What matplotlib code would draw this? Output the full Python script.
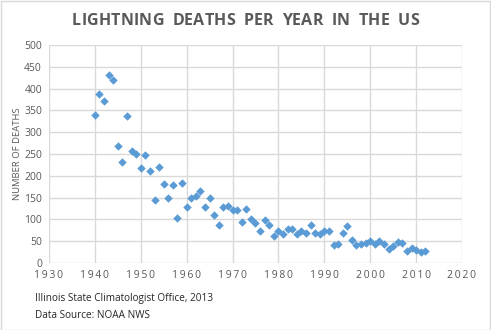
import matplotlib
matplotlib.use("Agg")
import matplotlib.pyplot as plt
from matplotlib.patches import Rectangle

plt.rcParams['font.family'] = ['Open Sans', 'DejaVu Sans']

years = list(range(1940, 2013))
deaths = [340, 388, 372, 432, 419, 268, 231, 338, 256, 249,
          219, 248, 212, 145, 220, 181, 149, 180, 104, 183,
          129, 149, 153, 165, 129, 149, 110, 88, 129, 131,
          122, 122, 94, 124, 102, 91, 74, 98, 88, 63,
          74, 66, 77, 77, 67, 74, 68, 88, 68, 67,
          74, 73, 41, 43, 69, 85, 53, 42, 44, 46,
          51, 44, 51, 44, 32, 38, 48, 45, 28, 34,
          29, 26, 28]

x_ticks = [1930, 1940, 1950, 1960, 1970, 1980, 1990, 2000, 2010, 2020]
y_ticks = [0, 50, 100, 150, 200, 250, 300, 350, 400, 450, 500]

title = "LIGHTNING DEATHS PER YEAR IN THE US"
y_label = "NUMBER OF DEATHS"
footer = ["Illinois State Climatologist Office, 2013", "Data Source: NOAA NWS"]

W, H = 491, 330
fig = plt.figure(figsize=(W / 100, H / 100), dpi=100)
fig.patch.set_facecolor('white')

# chart border
fig.add_artist(Rectangle((0.5 / W, 0.5 / H), 1 - 1.5 / W, 1 - 1.5 / H,
                         transform=fig.transFigure, fill=False,
                         edgecolor='#d9d9d9', linewidth=1.0))

ax = fig.add_axes([49 / W, (H - 263) / H, 413 / W, 218 / H])
ax.scatter(years, deaths, marker='D', s=15, color='#5B9BD5',
           edgecolors='#5B9BD5', linewidths=0.4, zorder=3)

ax.set_xlim(1930, 2020)
ax.set_ylim(0, 500)
ax.set_xticks(x_ticks)
ax.set_xticklabels(['\u2009'.join(str(v)) for v in x_ticks])
ax.set_yticks(y_ticks)
ax.set_yticklabels([str(v) for v in y_ticks])
ax.grid(True, color='#d9d9d9', linewidth=1.0)
ax.set_axisbelow(True)
for s in ax.spines.values():
    s.set_visible(False)
ax.tick_params(length=0, labelsize=7.5, colors='#595959', pad=5)

ax.set_ylabel(y_label, fontsize=6.8, color='#595959', labelpad=1.5)


def tracked_text(fig, text, cx, cy, width_px, **kw):
    """Draw text centred at (cx, cy) in figure pixels, letter-spaced to width_px."""
    renderer = fig.canvas.get_renderer()
    widths = []
    for ch in text:
        t = fig.text(0, 0, ch if ch != ' ' else 'n', **kw)
        w = t.get_window_extent(renderer).width
        widths.append(w * (0.8 if ch == ' ' else 1.0))
        t.remove()
    natural = sum(widths)
    track = (width_px - natural) / (len(text) - 1)
    x = cx - width_px / 2
    for ch, w in zip(text, widths):
        if ch != ' ':
            fig.text(x / W, cy / H, ch, ha='left', va='center', **kw)
        x += w + track


tracked_text(fig, title, W / 2, H - 21, 347,
             fontsize=11.5, fontweight='bold', color='#595959')

fig.text(35 / W, 1 - 299 / H, footer[0], ha='left', va='center',
         fontsize=7.2, color='#262626')
fig.text(35 / W, 1 - 316 / H, footer[1], ha='left', va='center',
         fontsize=7.2, color='#262626')

fig.savefig('out.png', dpi=100)
